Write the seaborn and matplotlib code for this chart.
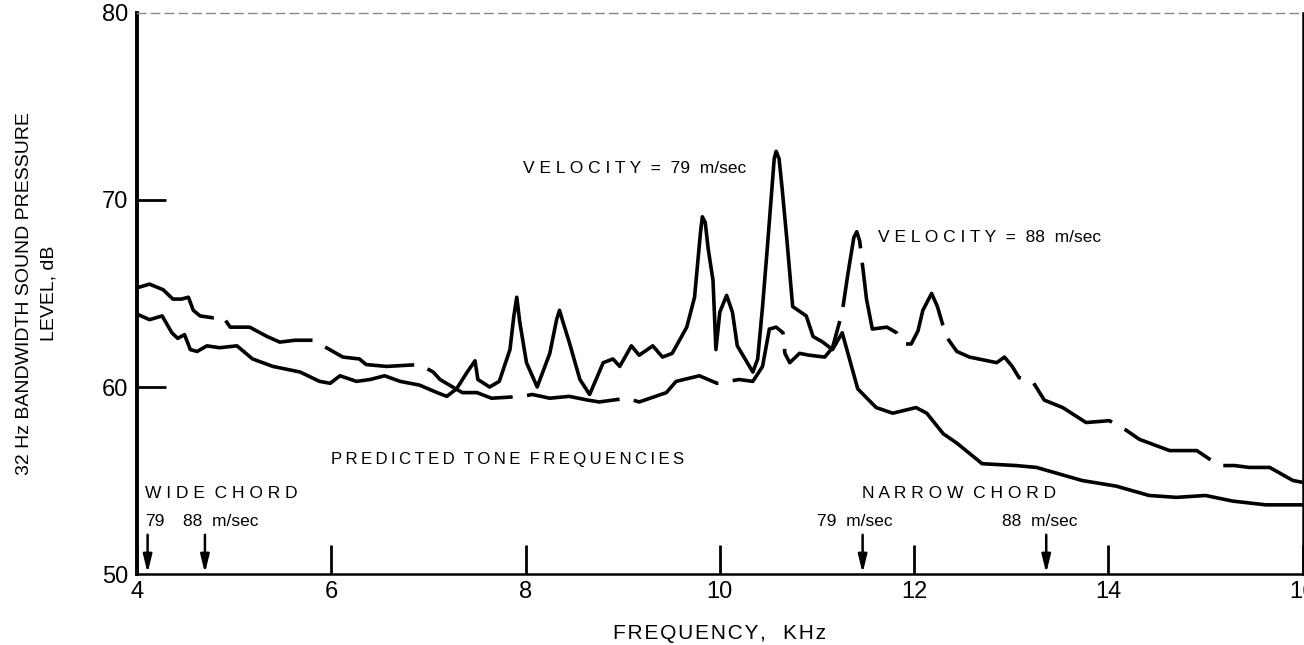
import matplotlib
matplotlib.use("Agg")
import matplotlib.pyplot as plt
import seaborn as sns
import pandas as pd

# 79 m/sec spectrum (solid)
freq_79 = [4.0, 4.13, 4.26, 4.36, 4.42, 4.49, 4.55, 4.62, 4.72, 4.85, 5.03, 5.19, 5.4, 5.68,
           5.88, 5.99, 6.09, 6.26, 6.4, 6.55, 6.71, 6.91, 7.09, 7.19, 7.29, 7.4, 7.48, 7.51,
           7.63, 7.73, 7.84, 7.88, 7.91, 7.94, 8.01, 8.12, 8.25, 8.32, 8.35, 8.39, 8.45, 8.56,
           8.66, 8.8, 8.9, 8.97, 9.09, 9.17, 9.31, 9.41, 9.51, 9.66, 9.74, 9.8, 9.82, 9.85,
           9.88, 9.93, 9.96, 10.0, 10.07, 10.13, 10.18, 10.34, 10.39, 10.44, 10.49, 10.56,
           10.58, 10.61, 10.64, 10.69, 10.75, 10.89, 10.96, 11.06, 11.16, 11.26, 11.42, 11.61,
           11.78, 12.02, 12.13, 12.3, 12.44, 12.7, 13.05, 13.26, 13.73, 14.08, 14.42, 14.7,
           15.0, 15.28, 15.62, 16.0]
level_79 = [63.9, 63.6, 63.8, 62.9, 62.6, 62.8, 62.0, 61.9, 62.2, 62.1, 62.2, 61.5, 61.1, 60.8,
            60.3, 60.2, 60.6, 60.3, 60.4, 60.6, 60.3, 60.1, 59.7, 59.5, 59.9, 60.8, 61.4, 60.4,
            60.0, 60.3, 62.0, 63.8, 64.8, 63.5, 61.3, 60.0, 61.8, 63.6, 64.1, 63.4, 62.4, 60.4,
            59.6, 61.3, 61.5, 61.1, 62.2, 61.7, 62.2, 61.6, 61.8, 63.2, 64.8, 68.2, 69.1, 68.8,
            67.4, 65.7, 62.0, 64.0, 64.9, 64.0, 62.2, 60.8, 61.5, 64.3, 67.5, 72.2,
            72.6, 72.2, 70.7, 67.9, 64.3, 63.8, 62.7, 62.4, 62.0, 62.9, 59.9, 58.9,
            58.6, 58.9, 58.6, 57.5, 57.0, 55.9, 55.8, 55.7, 55.0, 54.7, 54.2, 54.1,
            54.2, 53.9, 53.7, 53.7]

# 88 m/sec spectrum (dashed)
freq_88 = [4.0, 4.13, 4.27, 4.37, 4.46, 4.53, 4.58, 4.65, 4.78, 4.88, 4.96, 5.16, 5.34, 5.47,
           5.63, 5.81, 5.95, 6.12, 6.29, 6.36, 6.57, 6.91, 7.05, 7.12, 7.25, 7.35, 7.5, 7.65,
           7.97, 8.07, 8.25, 8.45, 8.64, 8.76, 9.04, 9.17, 9.45, 9.55, 9.79, 9.97, 10.2, 10.34,
           10.44, 10.51, 10.58, 10.65, 10.67, 10.72, 10.82, 10.92, 11.08, 11.16, 11.26, 11.32,
           11.38, 11.41, 11.44, 11.51, 11.57, 11.72, 11.82, 11.9, 11.97, 12.04, 12.09, 12.18,
           12.24, 12.33, 12.44, 12.57, 12.85, 12.93, 13.01, 13.08, 13.22, 13.34, 13.53, 13.77,
           14.01, 14.18, 14.32, 14.63, 14.91, 15.14, 15.3, 15.45, 15.66, 15.9, 16.0]
level_88 = [65.3, 65.5, 65.2, 64.7, 64.7, 64.8, 64.1, 63.8, 63.7, 63.8, 63.2, 63.2, 62.7, 62.4,
            62.5, 62.5, 62.1, 61.6, 61.5, 61.2, 61.1, 61.2, 60.8, 60.4, 60.0, 59.7, 59.7, 59.4,
            59.5, 59.6, 59.4, 59.5, 59.3, 59.2, 59.4, 59.2, 59.7, 60.3, 60.6, 60.2, 60.4, 60.3,
            61.1, 63.1, 63.2, 62.9, 61.8, 61.3, 61.8, 61.7, 61.6, 62.1, 64.0, 66.1,
            68.0, 68.3, 67.8, 64.7, 63.1, 63.2, 62.9, 62.3, 62.3, 63.0, 64.1, 65.0,
            64.3, 62.7, 61.9, 61.6, 61.3, 61.6, 61.1, 60.5, 60.3, 59.3, 58.9, 58.1,
            58.2, 57.7, 57.2, 56.6, 56.6, 55.8, 55.8, 55.7, 55.7, 55.0, 54.9]

# predicted tone frequencies (kHz)
wide_chord = [4.11, 4.70]
narrow_chord = [11.47, 13.36]

x_ticks = [4, 6, 8, 10, 12, 14, 16]
y_ticks = [60, 70]          # ticks with marks
y_edge_ticks = [50, 80]     # labels only (on the frame)


def spaced(s, gap="\u2009", word="  "):
    # letter-spaced caps like the original lettering
    return word.join(gap.join(w) for w in s.split(" "))


sns.set_theme(style="ticks")
plt.rcParams["font.family"] = ["Liberation Sans", "DejaVu Sans"]

df79 = pd.DataFrame({"freq": freq_79, "level": level_79})
df88 = pd.DataFrame({"freq": freq_88, "level": level_88})

fig = plt.figure(figsize=(13.04, 6.45), dpi=100)
ax = fig.add_axes([0.105, 0.110, 0.894, 0.870])

sns.lineplot(data=df79, x="freq", y="level", color="black", lw=2.6, sort=False,
             estimator=None, ax=ax)
sns.lineplot(data=df88, x="freq", y="level", color="black", lw=2.6, sort=False,
             estimator=None, ax=ax, linestyle=(0, (26, 4)))

ax.set_xlim(4, 16)
ax.set_ylim(50, 80)
ax.set_xticks(x_ticks)
ax.set_yticks(y_ticks)
ax.set_yticks(y_edge_ticks, minor=True)
ax.set_yticklabels([str(v) for v in y_edge_ticks], minor=True)
ax.tick_params(axis="both", which="both", direction="in", length=21, width=2,
               labelsize=17, colors="black")
ax.tick_params(axis="y", which="minor", length=0, pad=6)
ax.tick_params(axis="x", pad=5)
ax.tick_params(axis="y", which="major", pad=6)

ax.spines["left"].set_linewidth(2.8)
ax.spines["right"].set_linewidth(1.8)
ax.spines["bottom"].set_linewidth(1.8)
for side in ["left", "right", "bottom"]:
    ax.spines[side].set_color("black")
ax.spines["top"].set_linewidth(1.0)
ax.spines["top"].set_color("#888888")
ax.spines["top"].set_linestyle((0, (6, 4)))

ax.set_xlabel(spaced("FREQUENCY, KHz", gap="\u200a", word="   "), fontsize=15, color="black")
ax.xaxis.set_label_coords(0.5, -0.089)
ax.xaxis.label.set_va("top")
ax.set_ylabel("32 Hz BANDWIDTH SOUND PRESSURE\nLEVEL, dB", fontsize=14, color="black",
              multialignment="center", linespacing=1.6)
ax.yaxis.set_label_coords(-0.068, 0.5)

txt = dict(fontsize=12.5, color="black", va="center")
ax.text(7.97, 71.7, "V E L O C I T Y  =  79  m/sec", **txt)
ax.text(11.63, 68.0, "V E L O C I T Y  =  88  m/sec", **txt)
ax.text(6.0, 56.1, spaced("PREDICTED TONE FREQUENCIES"), fontsize=12.1, color="black",
        va="center")
ax.text(4.08, 54.3, "W I D E  C H O R D", **txt)
ax.text(4.08, 52.8, "79", **txt)
ax.text(4.47, 52.8, "88  m/sec", **txt)
ax.text(11.46, 54.3, "N A R R O W  C H O R D", **txt)
ax.text(11.0, 52.8, "79  m/sec", **txt)
ax.text(12.9, 52.8, "88  m/sec", **txt)

for f in wide_chord + narrow_chord:
    ax.annotate("", xy=(f, 50.05), xytext=(f, 52.1),
                arrowprops=dict(arrowstyle="-|>,head_length=0.9,head_width=0.22",
                                color="black", lw=1.8, shrinkA=0, shrinkB=0))

fig.savefig("out.png", dpi=100)
